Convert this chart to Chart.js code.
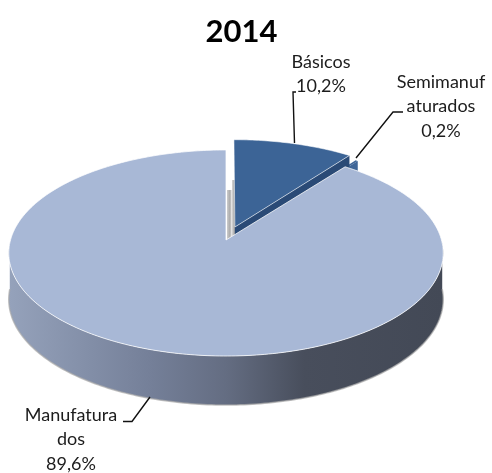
<!DOCTYPE html>
<html><head><meta charset="utf-8">
<style>html,body{margin:0;padding:0;background:#fff}canvas{display:block}</style>
<script src="https://cdn.jsdelivr.net/npm/chart.js@4"></script>
</head><body>
<canvas id="c" width="492" height="473"></canvas>
<script>
const chartTitle = '2014';
const categories = ['Básicos', 'Semimanufaturados', 'Manufaturados'];
const values = [10.2, 0.2, 89.6];
const valueLabels = ['10,2%', '0,2%', '89,6%'];
const wrappedNames = [['Básicos'], ['Semimanuf', 'aturados'], ['Manufatura', 'dos']];
const sliceColors = ['#3c6496', '#3f6698', '#a8b8d6'];
const faceColors = ['#2a4a76', '#3f6698', '#8e9cb5'];

// Perspective view of the pie plane
const cx = 226, cy = 240, B = 215.5, A = 101.4, P = 0.126;
const explode = [[0.042, 0.13], [0.07, 0.07], [0, 0]];
const project = (u, v) => { const w = 1 + P * v; return [cx + B * u / w, cy - A * v / w]; };
const depth = v => 46 + 3 * Math.max(0, -v);

function rim(a0, a1, off) {
  const n = Math.max(2, Math.ceil(Math.abs(a1 - a0) * 60)), pts = [];
  for (let i = 0; i <= n; i++) {
    const a = a0 + (a1 - a0) * i / n;
    pts.push({ u: Math.cos(a) + off[0], v: -Math.sin(a) + off[1] });
  }
  return pts;
}
function trace(ctx, pts, move) {
  pts.forEach((p, i) => { if (i === 0 && move) ctx.moveTo(p[0], p[1]); else ctx.lineTo(p[0], p[1]); });
}
function topFace(ctx, a0, a1, off, color, stroke) {
  const apex = project(off[0], off[1]);
  const r = rim(a0, a1, off).map(p => project(p.u, p.v));
  ctx.beginPath();
  ctx.moveTo(apex[0], apex[1]);
  trace(ctx, r, false);
  ctx.closePath();
  ctx.fillStyle = color;
  ctx.fill();
  if (stroke) { ctx.strokeStyle = stroke; ctx.lineWidth = 1; ctx.stroke(); }
}
function radialFace(ctx, a, off, color) {
  const p = project(off[0], off[1]);
  const q = project(Math.cos(a) + off[0], -Math.sin(a) + off[1]);
  ctx.beginPath();
  ctx.moveTo(p[0], p[1]);
  ctx.lineTo(q[0], q[1]);
  ctx.lineTo(q[0], q[1] + depth(0));
  ctx.lineTo(p[0], p[1] + depth(0));
  ctx.closePath();
  ctx.fillStyle = color;
  ctx.fill();
}
function outerWall(ctx, a0, a1, off, fill) {
  const r = rim(a0, a1, off);
  const up = r.map(p => project(p.u, p.v));
  const low = r.map(p => { const q = project(p.u, p.v); return [q[0], q[1] + depth(p.v)]; }).reverse();
  ctx.beginPath();
  trace(ctx, up, true);
  trace(ctx, low, false);
  ctx.closePath();
  ctx.fillStyle = fill;
  ctx.fill();
  ctx.beginPath();
  trace(ctx, low, true);
  ctx.strokeStyle = 'rgba(170,170,170,0.7)';
  ctx.lineWidth = 1.5;
  ctx.stroke();
}

const pie3d = {
  id: 'pie3d',
  beforeDatasetDraw(chart, args) {
    const ctx = chart.ctx, arcs = args.meta.data;
    ctx.save();
    // sliver
    radialFace(ctx, arcs[1].endAngle, explode[1], faceColors[1]);
    topFace(ctx, arcs[1].startAngle, arcs[1].endAngle, explode[1], sliceColors[1]);
    // cut faces seen edge-on behind the large slice
    const base = project(0, 0);
    const g1 = ctx.createLinearGradient(base[0], 0, base[0] + 9, 0);
    g1.addColorStop(0, '#d8d8d8'); g1.addColorStop(0.45, '#a9a9a9'); g1.addColorStop(0.6, '#e4e4e4'); g1.addColorStop(1, '#9a9a9a');
    ctx.fillStyle = g1;
    ctx.fillRect(base[0] + 1, base[1] - 50, 5, 52);
    ctx.fillRect(base[0] + 6, base[1] - 60, 3, 56);
    // small slice
    radialFace(ctx, arcs[0].endAngle, explode[0], faceColors[0]);
    topFace(ctx, arcs[0].startAngle, arcs[0].endAngle, explode[0], sliceColors[0], 'rgba(255,255,255,0.55)');
    // large slice
    const g = ctx.createLinearGradient(9, 0, 443, 0);
    g.addColorStop(0, '#95a2bb');
    g.addColorStop(0.33, '#747f98');
    g.addColorStop(0.5, '#646d82');
    g.addColorStop(0.68, '#484e5c');
    g.addColorStop(1, '#434956');
    outerWall(ctx, 0.03, Math.PI - 0.03, explode[2], g);
    topFace(ctx, arcs[2].startAngle, arcs[2].endAngle, explode[2], sliceColors[2], 'rgba(255,255,255,0.75)');
    ctx.restore();
    return false;
  },
  afterDraw(chart) {
    const ctx = chart.ctx;
    ctx.save();
    ctx.strokeStyle = '#111';
    ctx.lineWidth = 1.4;
    const leaders = [
      [[296, 92], [293, 92], [294.5, 143]],
      [[403, 112], [393, 112], [356, 158]],
      [[123, 421.5], [132, 421.5], [150, 397]]
    ];
    leaders.forEach(l => { ctx.beginPath(); trace(ctx, l, true); ctx.stroke(); });
    ctx.font = '18px Lato, sans-serif';
    ctx.fillStyle = '#1c1c1c';
    ctx.textAlign = 'center';
    ctx.textBaseline = 'middle';
    const anchors = [[321, 62], [441, 82], [71, 415]];
    const leading = 24.5;
    categories.forEach((_, i) => {
      const lines = wrappedNames[i].concat(valueLabels[i]);
      lines.forEach((t, k) => ctx.fillText(t, anchors[i][0], anchors[i][1] + k * leading));
    });
    ctx.restore();
  }
};

new Chart(document.getElementById('c'), {
  type: 'pie',
  data: { labels: categories, datasets: [{ data: values, backgroundColor: sliceColors, borderWidth: 0 }] },
  options: {
    responsive: false,
    animation: false,
    layout: { padding: { right: 9 } },
    plugins: {
      legend: { display: false },
      tooltip: { enabled: false },
      title: {
        display: true, text: chartTitle, color: '#000',
        font: { family: 'Lato, sans-serif', size: 31, weight: 'bold' },
        padding: { top: 13, bottom: 10 }
      }
    }
  },
  plugins: [pie3d]
});
</script>
</body></html>
